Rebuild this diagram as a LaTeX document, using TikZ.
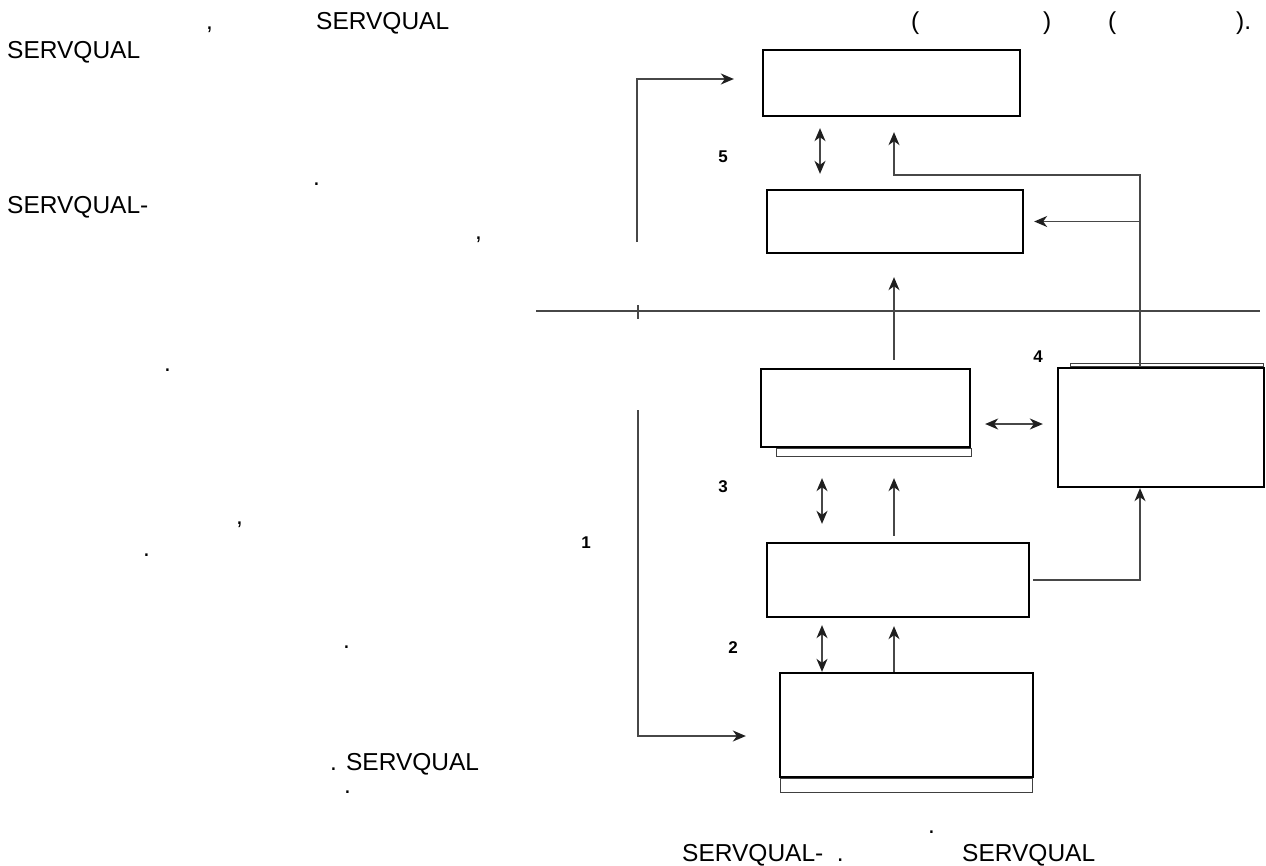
\documentclass[tikz,border=0pt]{standalone}
\usepackage{fontspec}
\setmainfont{Liberation Sans}
\usetikzlibrary{arrows.meta}
\begin{document}
\begin{tikzpicture}[x=1pt,y=-1pt,
  box/.style={draw=black,line width=2.3pt,inner sep=0pt},
  tip/.tip={Stealth[length=13pt,width=11pt,inset=4pt,color=black!88]},
  conn/.style={draw=black!72,line width=1.5pt},
  arr/.style={conn,-tip},
  darr/.style={conn,tip-tip},
  shade/.style={draw=black!75,line width=1.1pt},
  num/.style={font=\bfseries\fontsize{17}{17}\selectfont,inner sep=0pt},
  txt/.style={font=\fontsize{24.5}{24.5}\selectfont,inner sep=0pt,anchor=base west}]
\path[use as bounding box] (0,0) rectangle (1266,865);

% boxes
\node[box,minimum width=257pt,minimum height=66pt] (b1) at (891.5,83) {};
\node[box,minimum width=256pt,minimum height=63pt] (b2) at (895,221.5) {};
\node[box,minimum width=209pt,minimum height=78pt] (b3) at (865.5,408) {};
\node[box,minimum width=206pt,minimum height=119pt] (b4) at (1161,427.5) {};
\node[box,minimum width=262pt,minimum height=74pt] (b5) at (898,580) {};
\node[box,minimum width=253pt,minimum height=104pt] (b6) at (906.5,725) {};

% offset edges behind three boxes
\draw[shade] ([xshift=17pt]b3.south west) rectangle ([yshift=-8pt]b3.south east);
\draw[shade] ([xshift=14pt]b4.north west) rectangle ([xshift=-2pt,yshift=3pt]b4.north east);
\draw[shade] ([xshift=2pt]b6.south west) rectangle ([xshift=-2pt,yshift=-14pt]b6.south east);

% helper coordinates
\coordinate (ex) at (820,0);
\coordinate (dx) at (822,0);
\coordinate (cx) at (894,0);
\coordinate (fb) at (1140,175);
\coordinate (hy) at (0,424);
\coordinate (l1) at (637,242);
\coordinate (l2) at (638,410);
\coordinate (dl) at (536,311);
\coordinate (dr) at (1260,311);
\coordinate (tk1) at (638,305);
\coordinate (tk2) at (638,319);

% dividing line with tick
\draw[conn] (dl) -- (dr);
\draw[conn] (tk1) -- (tk2);

% left loop
\draw[arr,shorten >=28pt] (l1) |- ([yshift=4pt]b1.west);
\draw[arr,shorten >=33pt] (l2) |- ([yshift=-11pt]b6.west);

% vertical links
\draw[darr,shorten <=11pt,shorten >=15pt] (b1.south -| ex) -- (b2.north -| ex);
\draw[arr,shorten <=8pt,shorten >=23pt] (b3.north -| cx) -- (b2.south -| cx);
\draw[darr,shorten <=30pt,shorten >=18pt] (b3.south -| dx) -- (b5.north -| dx);
\draw[arr,shorten <=6pt,shorten >=30pt] (b5.north -| cx) -- (b3.south -| cx);
\draw[darr,shorten <=7pt] (b5.south -| dx) -- (b6.north -| dx);
\draw[arr,shorten >=8pt] (b6.north -| cx) -- (b5.south -| cx);

% side links
\draw[darr,shorten <=14pt,shorten >=14pt] (b3.east |- hy) -- (b4.west |- hy);
\draw[arr,shorten <=3pt] (b5.east) -| (b4.south -| fb);
\draw[arr,shorten >=15pt] (b4.north -| fb) -- (fb) -| (b1.south -| cx);
\draw[arr,shorten >=10pt] (fb |- b2.east) -- (b2.east);

% numbers
\node[num] (n5) at (723,157) {5};
\node[num] (n4) at (1038,357) {4};
\node[num] (n3) at (723,487) {3};
\node[num] (n1) at (586,543) {1};
\node[num] (n2) at (733,648) {2};

% surrounding text
\node[txt] (t1) at (206,29) {,};
\node[txt] (t2) at (316,29) {SERVQUAL};
\node[txt] (t3) at (911,29) {(};
\node[txt] (t4) at (1043,29) {)};
\node[txt] (t5) at (1108,29) {(};
\node[txt] (t6) at (1236,29) {).};
\node[txt] (t7) at (7,58) {SERVQUAL};
\node[txt] (t8) at (313,185) {.};
\node[txt] (t9) at (7,213) {SERVQUAL-};
\node[txt] (t10) at (475,239) {,};
\node[txt] (t11) at (164,371) {.};
\node[txt] (t12) at (236,524) {,};
\node[txt] (t13) at (143,556) {.};
\node[txt] (t14) at (343,648) {.};
\node[txt] (t15) at (330,770) {. SERVQUAL};
\node[txt] (t16) at (344,793) {.};
\node[txt] (t17) at (928,833) {.};
\node[txt] (t18) at (682,861) {SERVQUAL-\ \ .};
\node[txt] (t19) at (962,861) {SERVQUAL};
\end{tikzpicture}
\end{document}
